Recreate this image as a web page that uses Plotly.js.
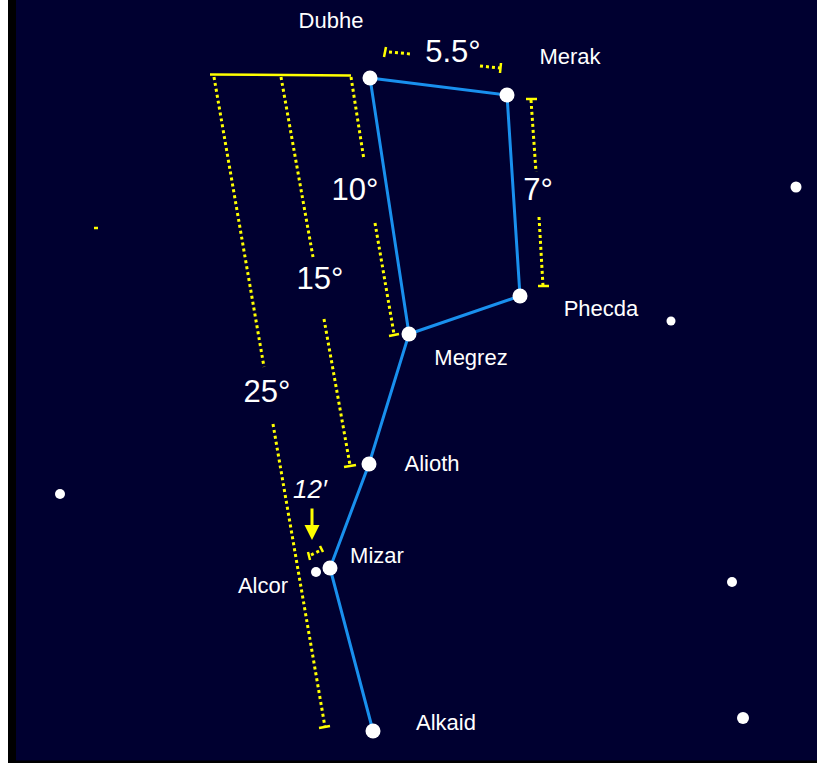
<!DOCTYPE html>
<html>
<head>
<meta charset="utf-8">
<script src="https://cdn.plot.ly/plotly-3.0.1.min.js"></script>
<style>html,body{margin:0;padding:0;background:#fff;}#chart{width:817px;height:763px;}</style>
</head>
<body>
<div id="chart"></div>
<script>
// ---- Data (pixel-like sky coordinates, y downward) ----
const starNames = ['Dubhe','Merak','Phecda','Megrez','Alioth','Mizar','Alkaid'];
const starX = [370, 507, 520, 409, 369, 330, 373];
const starY = [78, 95, 296, 334, 464, 568, 731];

// path order through the asterism (indices into starNames)
const pathOrder = [6, 5, 4, 3, 0, 1, 2, 3];

const alcorX = [316];
const alcorY = [572];

const fieldStarX = [796, 671, 60, 732, 743];
const fieldStarY = [187, 321, 494, 582, 718];
const fieldStarSize = [11, 9, 10, 10, 12];

const labelText = ['Dubhe','Merak','Phecda','Megrez','Alioth','Mizar','Alcor','Alkaid'];
const labelX = [331, 570, 601, 471, 432, 377, 263, 446];
const labelY = [22, 58, 310, 359, 465, 557, 587, 724];

const angleText = ['5.5°','7°','10°','15°','25°'];
const angleX = [453, 538, 355, 320, 267];
const angleY = [54, 192, 192, 281, 394];

const smallAngleText = ['12′'];
const smallAngleX = [310];
const smallAngleY = [491];

// dotted measurement segments [x0, y0, x1, y1]
const dottedSegs = [
  [214, 77, 264, 367], [273, 424, 325, 727],   // 25°
  [281, 77, 313, 257], [324, 319, 350, 465],   // 15°
  [351, 77, 364, 160], [375, 223, 394, 334],   // 10°
  [531, 100, 536, 172], [539, 217, 543, 286],  // 7°
  [389, 52, 411, 54], [480, 66, 500, 68],      // 5.5°
  [311, 555, 321, 550]                         // 12'
];
// solid tick / bracket segments
const solidSegs = [
  [210, 74.5, 351, 75.5],                      // top bracket
  [319, 728, 330, 726], [344, 467, 356, 465], [389, 336, 399, 334],
  [526, 99, 537, 99], [538, 286, 549, 286],
  [386, 47, 384, 57], [501, 63, 500, 73],
  [308, 552, 310, 560], [320, 546, 323, 552],
  [94, 228, 98, 228]
];
// arrow for 12'
const arrowFrom = [312, 507];
const arrowTo = [312, 540];

// ---- Build traces ----
function segTrace(segs, dash, width) {
  const xs = [], ys = [];
  segs.forEach(s => { xs.push(s[0], s[2], null); ys.push(s[1], s[3], null); });
  return {x: xs, y: ys, mode: 'lines', type: 'scatter', hoverinfo: 'skip',
          line: {color: '#ffff00', width: width, dash: dash}, showlegend: false};
}

const traces = [
  segTrace(dottedSegs, 'dot', 3),
  segTrace(solidSegs, 'solid', 2.5),
  {x: pathOrder.map(i => starX[i]), y: pathOrder.map(i => starY[i]), mode: 'lines',
   type: 'scatter', line: {color: '#1990ee', width: 3}, hoverinfo: 'skip', showlegend: false},
  {x: starX, y: starY, mode: 'markers', type: 'scatter', text: starNames, hoverinfo: 'text',
   marker: {color: '#ffffff', size: 15, opacity: 1, line: {width: 0}}, showlegend: false},
  {x: alcorX, y: alcorY, mode: 'markers', type: 'scatter', hoverinfo: 'skip',
   marker: {color: '#ffffff', size: 10, opacity: 1, line: {width: 0}}, showlegend: false},
  {x: fieldStarX, y: fieldStarY, mode: 'markers', type: 'scatter', hoverinfo: 'skip',
   marker: {color: '#ffffff', size: fieldStarSize, opacity: 1, line: {width: 0}}, showlegend: false},
  {x: labelX, y: labelY, text: labelText, mode: 'text', type: 'scatter', hoverinfo: 'skip',
   textposition: 'middle center',
   textfont: {family: 'Liberation Sans, Arial, sans-serif', size: 22, color: '#ffffff'}, showlegend: false},
  {x: angleX, y: angleY, text: angleText, mode: 'text', type: 'scatter', hoverinfo: 'skip',
   textposition: 'middle center',
   textfont: {family: 'Liberation Sans, Arial, sans-serif', size: 31, color: '#ffffff'}, showlegend: false},
  {x: smallAngleX, y: smallAngleY, text: smallAngleText, mode: 'text', type: 'scatter', hoverinfo: 'skip',
   textposition: 'middle center',
   textfont: {family: 'Liberation Sans, Arial, sans-serif', size: 26, color: '#ffffff', style: 'italic'}, showlegend: false}
];

const layout = {
  width: 817, height: 763,
  margin: {l: 0, r: 0, t: 0, b: 0, pad: 0},
  paper_bgcolor: '#000030',
  plot_bgcolor: '#000030',
  xaxis: {range: [0, 817], visible: false, fixedrange: true},
  yaxis: {range: [763, 0], visible: false, fixedrange: true},
  showlegend: false,
  shapes: [
    {type: 'rect', xref: 'paper', yref: 'paper', x0: 0, x1: 8/817, y0: 0, y1: 1,
     fillcolor: '#ffffff', line: {width: 0}, layer: 'below'},
    {type: 'rect', xref: 'paper', yref: 'paper', x0: 8/817, x1: 16/817, y0: 0, y1: 1,
     fillcolor: '#000000', line: {width: 0}, layer: 'below'},
    {type: 'rect', xref: 'paper', yref: 'paper', x0: 8/817, x1: 1, y0: 0, y1: 2.5/763,
     fillcolor: '#000000', line: {width: 0}, layer: 'below'}
  ],
  annotations: [
    {x: arrowTo[0], y: arrowTo[1], ax: arrowFrom[0], ay: arrowFrom[1], xref: 'x', yref: 'y',
     axref: 'x', ayref: 'y', text: '', showarrow: true, arrowhead: 2, arrowsize: 1,
     arrowwidth: 3, arrowcolor: '#ffff00'}
  ]
};

Plotly.newPlot('chart', traces, layout, {displayModeBar: false, staticPlot: true});
</script>
</body>
</html>
